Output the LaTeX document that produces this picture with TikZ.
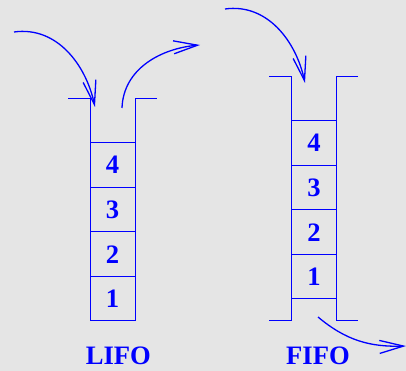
\documentclass[tikz,border=0pt]{standalone}
\usepackage{fontspec}
\setmainfont{Liberation Serif}
\usepackage{tikz}
\usetikzlibrary{positioning}
\usetikzlibrary{arrows.meta}
\definecolor{bggray}{RGB}{229,229,229}
\tikzstyle{stack_cell} = [draw = blue, rectangle, line width = 1, minimum width = 45, minimum height = 44.5, inner sep = 0, outer sep = 0, text = blue, font = \bfseries\fontsize{26.6}{30}\selectfont]
\tikzstyle{stack_wall} = [blue, line width = 1]
\tikzstyle{stack_arrow} = [blue, line width = 1.3, -{Straight Barb[length = 24, width = 13]}]
\tikzstyle{stack_title} = [text = blue, anchor = base, font = \bfseries\fontsize{26.6}{30}\selectfont]

\begin{document}
\begin{tikzpicture}[x = 1pt, y = 1pt]
        \path [fill = bggray, use as bounding box] (0, 0) rectangle (406, 371);

        % LIFO
        \node [stack_cell] (lifo_1) at (112.5, 72.25) {1};
        \node [stack_cell, above = 0 of lifo_1] (lifo_2) {2};
        \node [stack_cell, above = 0 of lifo_2] (lifo_3) {3};
        \node [stack_cell, above = 0 of lifo_3] (lifo_4) {4};
        \draw [stack_wall] (68, 272) -| (lifo_1.south west) -- (lifo_1.south east) |- (157, 272);
        \coordinate (lifo_in_start) at (14, 339);
        \coordinate (lifo_in_end) at (95, 264);
        \coordinate (lifo_out_start) at (122, 263);
        \coordinate (lifo_out_end) at (200, 326);
        \draw [stack_arrow] (lifo_in_start) to[out = 8, in = 102] (lifo_in_end);
        \draw [stack_arrow] (lifo_out_start) to[out = 88, in = 185] (lifo_out_end);
        \node [stack_title] (lifo_title) at (118.4, 6) {LIFO};

        % FIFO
        \node [stack_cell] (fifo_1) at (314, 94.25) {1};
        \node [stack_cell, above = 0 of fifo_1] (fifo_2) {2};
        \node [stack_cell, above = 0 of fifo_2] (fifo_3) {3};
        \node [stack_cell, above = 0 of fifo_3] (fifo_4) {4};
        \draw [stack_wall] (269, 294) -| ([yshift = -22]fifo_1.south west) -- (269, 50);
        \draw [stack_wall] (358, 294) -| ([yshift = -22]fifo_1.south east) -- (358, 50);
        \coordinate (fifo_in_start) at (225, 362);
        \coordinate (fifo_in_end) at (305, 288);
        \coordinate (fifo_out_start) at (318, 54);
        \coordinate (fifo_out_end) at (406, 25);
        \draw [stack_arrow] (fifo_in_start) to[out = 8, in = 102] (fifo_in_end);
        \draw [stack_arrow] (fifo_out_start) to[out = -40, in = 182] (fifo_out_end);
        \node [stack_title] (fifo_title) at (318, 6) {FIFO};
    \end{tikzpicture}
\end{document}
